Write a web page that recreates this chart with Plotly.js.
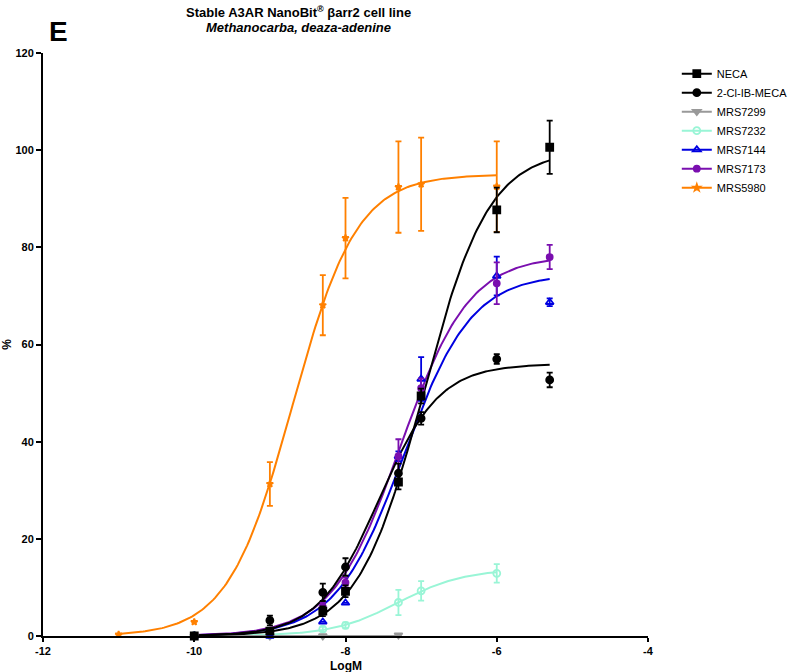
<!DOCTYPE html>
<html>
<head>
<meta charset="utf-8">
<script src="https://cdn.plot.ly/plotly-3.0.1.min.js"></script>
<style>html,body{margin:0;padding:0;background:#fff;}#chart{width:800px;height:672px;}</style>
</head>
<body>
<div id="chart"></div>
<script>
// ---- data ----
const seriesNames = ["NECA", "2-Cl-IB-MECA", "MRS7299", "MRS7232", "MRS7144", "MRS7173", "MRS5980"];

const necaX = [-10, -9, -8.3, -8, -7.3, -7, -6, -5.3];
const necaY = [0, 1.0, 5.1, 9.2, 31.7, 49.4, 87.7, 100.6];
const necaErr = [0.3, 0.5, 1.0, 1.2, 1.5, 1.5, 4.6, 5.5];

const clibX = [-10, -9, -8.3, -8, -7.3, -7, -6, -5.3];
const clibY = [0, 3.2, 9.0, 14.2, 33.5, 44.8, 57.0, 52.7];
const clibErr = [0.2, 1.0, 1.8, 1.8, 2.0, 1.3, 1.0, 1.5];

const m7299X = [-10, -9, -8.3, -8, -7.3];
const m7299Y = [0, 0, 0, -0.1, 0.2];
const m7299Err = [0, 0, 0, 0, 0];

const m7232X = [-10, -9, -8.3, -8, -7.3, -7, -6];
const m7232Y = [0, 0.2, 1.4, 2.2, 6.9, 9.3, 12.9];
const m7232Err = [0, 0.3, 0.5, 0.6, 2.6, 2.0, 1.9];

const m7144X = [-10, -9, -8.3, -8, -7.3, -7, -6, -5.3];
const m7144Y = [0, 0, 2.9, 6.8, 37.0, 52.9, 74.1, 68.7];
const m7144Err = [0, 0, 0, 0, 1.0, 4.5, 4.0, 0.8];

const m7173X = [-10, -9, -8.3, -8, -7.3, -7, -6, -5.3];
const m7173Y = [0, 1.0, 6.0, 11.0, 37.0, 51.0, 72.6, 78.0];
const m7173Err = [0, 0.3, 0.8, 1.0, 3.5, 2.0, 4.3, 2.5];

const m5980X = [-11, -10, -9, -8.3, -8, -7.3, -7, -6];
const m5980Y = [0.3, 2.9, 31.3, 68.1, 81.9, 92.4, 93.0, 92.5];
const m5980Err = [0, 0, 4.5, 6.2, 8.3, 9.4, 9.6, 9.3];

// fitted sigmoid parameters
const fitTop    = [100, 56, 0, 13.8, 74.5, 78.3, 95];
const fitBottom = [0, 0, 0, 0, 0, 0, 0];
const fitLogEC50 = [-6.97, -7.56, -7.0, -7.3, -7.23, -7.27, -8.7];
const fitHill   = [1.0, 1.09, 1.0, 1.0, 0.965, 0.96, 1.02];
const fitFrom   = [-10, -10, -10, -10, -10, -10, -11];
const fitTo     = [-5.3, -5.3, -7.3, -6, -5.3, -5.3, -6];

const xTicks = [-12, -10, -8, -6, -4];
const yTicks = [0, 20, 40, 60, 80, 100, 120];

// ---- styling ----
const colors = ["#000000", "#000000", "#999999", "#99F5D6", "#0000E0", "#7A0FAF", "#FF8000"];
const symbols = ["square", "circle", "triangle-down", "circle-open", "triangle-up-open", "circle", "star"];
const msizes = [7, 7, 7, 7, 7, 6, 5];

const pts = [
  [necaX, necaY, necaErr], [clibX, clibY, clibErr], [m7299X, m7299Y, m7299Err],
  [m7232X, m7232Y, m7232Err], [m7144X, m7144Y, m7144Err], [m7173X, m7173Y, m7173Err],
  [m5980X, m5980Y, m5980Err]
];

function curve(i) {
  const xs = [], ys = [];
  const n = 200;
  for (let k = 0; k <= n; k++) {
    const x = fitFrom[i] + (fitTo[i] - fitFrom[i]) * k / n;
    xs.push(x);
    ys.push(fitBottom[i] + (fitTop[i] - fitBottom[i]) / (1 + Math.pow(10, (fitLogEC50[i] - x) * fitHill[i])));
  }
  return {xs, ys};
}

const traces = [];
const order = [3, 2, 6, 4, 5, 1, 0];
order.forEach(i => {
  const c = curve(i);
  traces.push({x: c.xs, y: c.ys, mode: "lines", line: {color: colors[i], width: 2},
    showlegend: false, hoverinfo: "skip", cliponaxis: false});
});
order.forEach(i => {
  const [x, y, e] = pts[i];
  traces.push({x: x, y: y, mode: "markers",
    marker: {symbol: symbols[i], size: msizes[i], color: colors[i], line: {color: colors[i], width: 1.8}},
    error_y: {type: "data", array: e, visible: true, color: colors[i], thickness: 1.8, width: 3},
    showlegend: false, cliponaxis: false});
});
// legend entries
seriesNames.forEach((name, i) => {
  traces.push({x: [null], y: [null], mode: "lines+markers", name: name,
    line: {color: colors[i], width: 2},
    marker: {symbol: symbols[i], size: msizes[i], color: colors[i], line: {color: colors[i], width: 1.8}}});
});

const F = "Liberation Sans, Arial, sans-serif";
const layout = {
  width: 800, height: 672,
  margin: {l: 43, r: 152, t: 53, b: 36},
  paper_bgcolor: "#fff", plot_bgcolor: "#fff",
  font: {family: F, color: "#000"},
  xaxis: {
    range: [-12, -4], tickvals: xTicks, ticktext: xTicks.map(String),
    showgrid: false, zeroline: false, showline: true, linecolor: "#000", linewidth: 2,
    ticks: "outside", ticklen: 4, tickwidth: 2, tickcolor: "#000",
    tickfont: {size: 11, weight: "bold"}
  },
  yaxis: {
    range: [0, 120], tickvals: yTicks, ticktext: yTicks.map(String),
    showgrid: false, zeroline: false, showline: true, linecolor: "#000", linewidth: 2,
    ticks: "outside", ticklen: 5, tickwidth: 2, tickcolor: "#000",
    tickfont: {size: 11, weight: "bold"},
    title: {text: "<b>%</b>", font: {size: 12}, standoff: 8}
  },
  legend: {
    xref: "container", yref: "container", x: 0.846, y: 0.912, xanchor: "left", yanchor: "top",
    font: {size: 11}, bgcolor: "rgba(0,0,0,0)", tracegroupgap: 0, itemwidth: 30
  },
  annotations: [
    {text: "<b>Stable A3AR NanoBit<sup>®</sup> βarr2 cell line</b>", xref: "paper", yref: "paper",
     x: 0.4215, y: 1.0703, xanchor: "center", yanchor: "middle", showarrow: false,
     font: {size: 13, family: F, color: "#000"}},
    {text: "<b><i>Methanocarba, deaza-adenine</i></b>", xref: "paper", yref: "paper",
     x: 0.4215, y: 1.043, xanchor: "center", yanchor: "middle", showarrow: false,
     font: {size: 13, family: F, color: "#000"}},
    {text: "<b>LogM</b>", xref: "paper", yref: "paper", x: 0.5, y: -0.051, xanchor: "center", yanchor: "middle",
     showarrow: false, font: {size: 12, family: F, color: "#000"}},
    {text: "<b>E</b>", xref: "paper", yref: "paper", x: 0.007, y: 1.0, xanchor: "left", yanchor: "bottom",
     yshift: 4, showarrow: false, font: {size: 28, family: F, color: "#000"}}
  ]
};

Plotly.newPlot("chart", traces, layout, {displayModeBar: false, staticPlot: true});
</script>
</body>
</html>
